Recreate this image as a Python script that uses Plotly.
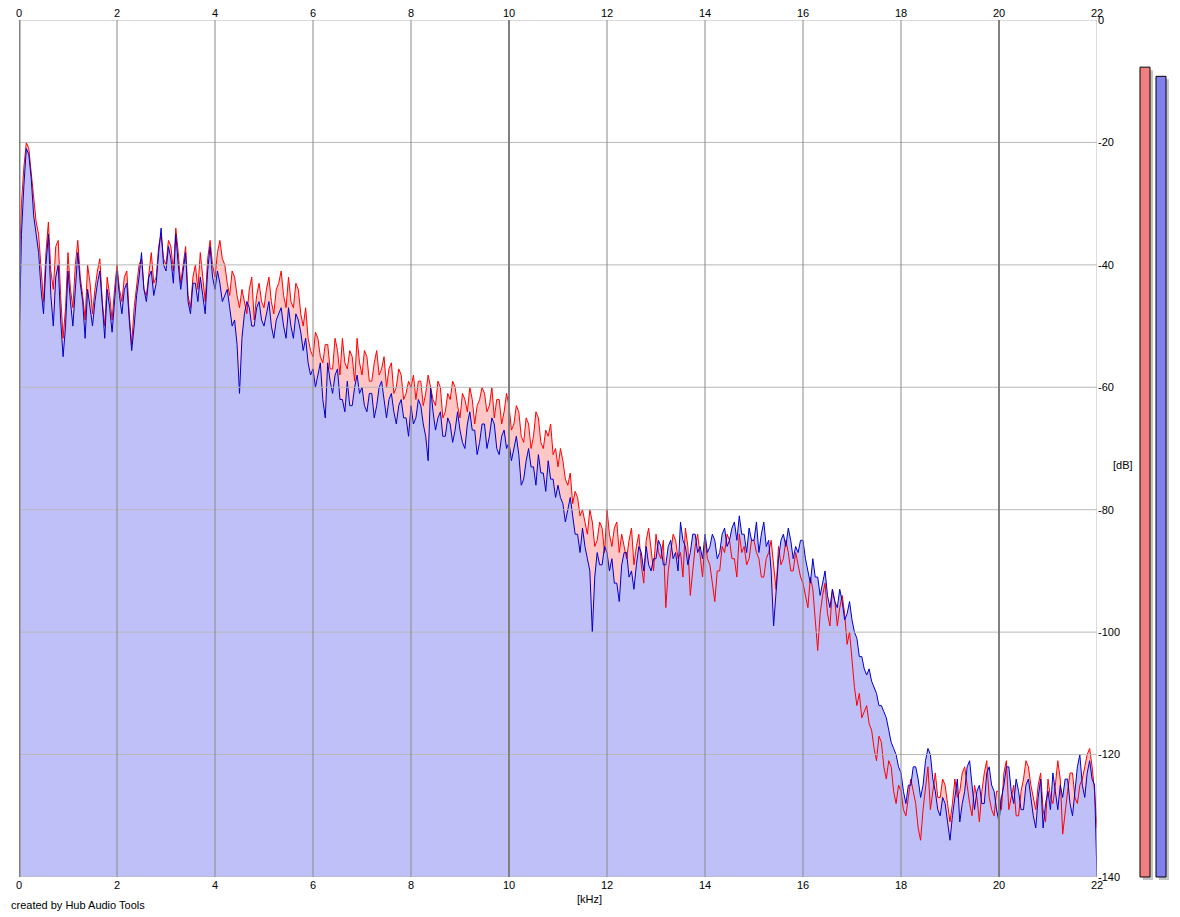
import plotly.graph_objects as go

# ---------------- data ----------------
left_db = [
    -43, -30, -24, -20, -21, -25, -30, -33, -35, -40, -46, -38, -33, -41, -44, -37, -36, -45, -52, -47,
    -38, -44, -47, -40, -36, -42, -45, -49, -40, -43, -48, -44, -41, -39, -46, -50, -42, -45, -49, -44,
    -40, -44, -46, -42, -41, -48, -53, -47, -43, -40, -39, -44, -45, -41, -38, -43, -42, -37, -35, -39,
    -40, -36, -37, -41, -34, -38, -43, -40, -37, -45, -47, -42, -40, -44, -38, -42, -46, -39, -36, -40,
    -42, -38, -36, -39, -40, -43, -45, -41, -42, -45, -47, -44, -46, -48, -44, -42, -49, -45, -43, -46,
    -47, -44, -42, -46, -48, -44, -43, -41, -45, -47, -42, -46, -47, -43, -44, -48, -50, -47, -52, -54,
    -55, -51, -52, -55, -56, -53, -53, -57, -57, -52, -54, -58, -52, -56, -57, -54, -55, -59, -52, -56,
    -58, -54, -55, -59, -59, -56, -54, -58, -57, -55, -60, -57, -56, -61, -60, -57, -58, -62, -61, -59,
    -60, -58, -62, -59, -59, -63, -61, -58, -60, -62, -63, -59, -60, -65, -64, -61, -62, -59, -60, -63,
    -65, -61, -62, -64, -60, -62, -66, -63, -62, -60, -61, -64, -63, -60, -65, -62, -62, -66, -64, -61,
    -63, -67, -66, -63, -64, -68, -69, -65, -66, -70, -68, -64, -65, -69, -70, -67, -68, -66, -71, -70,
    -73, -70, -72, -75, -76, -74, -79, -77, -78, -81, -80, -82, -84, -80, -82, -86, -85, -82, -83, -87,
    -80, -84, -86, -83, -82, -87, -84, -86, -88, -85, -83, -89, -86, -84, -89, -92, -85, -83, -87, -90,
    -84, -87, -88, -85, -96, -90, -87, -84, -85, -88, -87, -91, -83, -86, -94, -90, -86, -84, -88, -91,
    -85, -88, -89, -92, -95, -90, -90, -86, -87, -84, -85, -88, -88, -91, -84, -87, -86, -89, -88, -85,
    -85, -87, -88, -91, -91, -88, -87, -85, -89, -93, -86, -89, -88, -85, -87, -90, -90, -87, -89, -91,
    -92, -94, -96, -91, -93, -98, -103, -97, -94, -92, -97, -99, -93, -95, -99, -96, -94, -97, -102, -100,
    -105, -109, -112, -110, -114, -113, -112, -115, -116, -119, -121, -117, -118, -122, -124, -121, -122, -126, -128, -125,
    -126, -129, -130, -127, -124, -126, -128, -132, -134, -129, -125, -122, -129, -126, -123, -127, -127, -124, -125, -128,
    -131, -128, -124, -127, -126, -123, -122, -125, -128, -130, -125, -127, -131, -126, -123, -121, -127, -129, -130, -126,
    -126, -129, -123, -121, -129, -127, -125, -130, -130, -126, -124, -121, -122, -125, -127, -129, -125, -123, -129, -131,
    -124, -127, -128, -125, -121, -124, -133, -129, -126, -123, -123, -127, -128, -125, -124, -122, -120, -119, -122, -126,
    -132,
]

right_db = [
    -54, -35, -27, -21, -22, -26, -32, -35, -38, -44, -48, -40, -35, -45, -50, -42, -40, -49, -55, -50,
    -41, -46, -50, -44, -38, -43, -46, -52, -44, -47, -50, -46, -43, -41, -47, -52, -44, -47, -51, -46,
    -41, -45, -48, -44, -43, -49, -54, -50, -45, -42, -38, -44, -46, -42, -41, -45, -43, -38, -34, -40,
    -41, -37, -39, -43, -35, -40, -44, -41, -38, -46, -48, -43, -43, -46, -42, -45, -48, -41, -37, -42,
    -44, -41, -43, -46, -45, -44, -47, -50, -49, -53, -61, -52, -48, -46, -47, -50, -50, -47, -46, -49,
    -50, -48, -46, -50, -52, -49, -48, -47, -50, -52, -47, -50, -52, -48, -49, -51, -54, -52, -56, -58,
    -57, -60, -58, -56, -62, -65, -56, -59, -61, -58, -57, -62, -62, -64, -59, -63, -63, -60, -58, -61,
    -60, -63, -64, -61, -61, -65, -63, -60, -59, -62, -65, -62, -61, -64, -66, -63, -62, -65, -65, -68,
    -63, -66, -65, -62, -63, -66, -68, -72, -60, -64, -67, -65, -64, -68, -68, -65, -66, -69, -67, -64,
    -67, -69, -70, -66, -64, -67, -67, -71, -69, -66, -66, -70, -68, -65, -66, -70, -71, -68, -67, -70,
    -69, -72, -70, -68, -71, -76, -75, -72, -70, -73, -73, -76, -71, -74, -74, -77, -72, -75, -75, -78,
    -76, -78, -79, -82, -80, -78, -81, -84, -84, -87, -83, -86, -88, -90, -100, -91, -87, -89, -89, -86,
    -87, -90, -88, -92, -92, -95, -89, -87, -87, -91, -90, -93, -89, -86, -87, -90, -86, -89, -90, -88,
    -88, -85, -86, -89, -89, -86, -85, -88, -87, -90, -82, -85, -86, -89, -87, -84, -84, -87, -86, -88,
    -84, -87, -86, -84, -85, -88, -87, -84, -83, -86, -85, -83, -82, -85, -81, -84, -84, -87, -83, -85,
    -85, -82, -87, -84, -82, -86, -85, -90, -99, -93, -88, -85, -84, -86, -83, -85, -88, -86, -87, -85,
    -85, -88, -90, -92, -88, -91, -91, -94, -92, -90, -94, -96, -93, -95, -96, -93, -95, -98, -97, -95,
    -98, -100, -101, -104, -104, -106, -107, -106, -108, -109, -110, -112, -112, -113, -114, -116, -118, -119, -120, -122,
    -123, -126, -128, -125, -125, -122, -122, -124, -127, -125, -121, -119, -120, -124, -126, -129, -130, -127, -128, -131,
    -134, -130, -127, -124, -131, -128, -126, -122, -121, -125, -129, -126, -125, -128, -128, -123, -122, -125, -126, -129,
    -131, -127, -125, -122, -122, -126, -128, -124, -126, -129, -129, -125, -124, -127, -130, -132, -127, -124, -132, -128,
    -126, -129, -123, -126, -129, -125, -127, -124, -124, -128, -130, -126, -122, -120, -125, -127, -123, -121, -124, -125,
    -140,
]

freq_khz = [round(i * 0.05, 2) for i in range(len(left_db))]

level_db = [-7.7, -9.2]          # red (left) and blue (right) level meters
x_ticks = list(range(0, 23, 2))
y_ticks = list(range(0, -141, -20))

# ---------------- layout geometry ----------------
W, H = 1180, 917
ML, MR, MT, MB = 19, 10, 20, 30
PW, PH = W - ML - MR, H - MT - MB
x_dom_end = (1097 - ML) / PW
y_dom_start = (H - MB - 877) / PH
px_per_db = (877 - 20) / 140.0
bar_axis_start = (1138 - ML) / PW

FONT = dict(family="Liberation Sans, Arial, sans-serif", size=11, color="#000000")
RED, BLUE = "#ff0000", "#0000cc"
PINK_FILL, BLUE_FILL = "#ffc6c6", "#c0c0f8"

n = len(freq_khz)
base = [-140] * n

fig = go.Figure()
fig.add_trace(go.Scatter(x=freq_khz, y=base, mode="lines", line=dict(width=0),
                         hoverinfo="skip", showlegend=False))
fig.add_trace(go.Scatter(x=freq_khz, y=left_db, mode="lines", line=dict(width=0),
                         fill="tonexty", fillcolor=PINK_FILL, showlegend=False))
fig.add_trace(go.Scatter(x=freq_khz, y=base, mode="lines", line=dict(width=0),
                         hoverinfo="skip", showlegend=False))
fig.add_trace(go.Scatter(x=freq_khz, y=right_db, mode="lines", line=dict(width=0),
                         fill="tonexty", fillcolor=BLUE_FILL, showlegend=False))
fig.add_trace(go.Scatter(x=freq_khz, y=left_db, mode="lines",
                         line=dict(color=RED, width=1), showlegend=False))
fig.add_trace(go.Scatter(x=freq_khz, y=right_db, mode="lines",
                         line=dict(color=BLUE, width=1), showlegend=False))

# level meters (with drop shadow) on a helper axis
shadow_off_db = 3 / px_per_db
fig.add_trace(go.Bar(x=[10, 26], y=[v + 140 for v in level_db],
                     base=[-140 - shadow_off_db] * 2, width=[10, 10],
                     marker=dict(color="#c4c4c4", line=dict(width=0)),
                     xaxis="x2", yaxis="y2", showlegend=False, hoverinfo="skip"))
fig.add_trace(go.Bar(x=[7, 23], y=[v + 140 for v in level_db],
                     base=[-140] * 2, width=[10, 10],
                     marker=dict(color=["#f08080", "#8080f0"],
                                 line=dict(color="#000000", width=1)),
                     xaxis="x2", yaxis="y2", showlegend=False))

# grid lines drawn above the filled areas
shapes = []
for t in y_ticks:
    shapes.append(dict(type="line", xref="x", yref="y", x0=0, x1=22, y0=t, y1=t,
                       line=dict(color="#b8b8b8", width=1), layer="above"))
for t in x_ticks:
    if t == 22:
        col, w = "#b8b8b8", 1
    elif t == 0:
        col, w = "#808080", 3
    elif t in (10, 20):
        col, w = "#808080", 2
    else:
        col, w = "#8a8a8a", 1
    shapes.append(dict(type="line", xref="x", yref="y", x0=t, x1=t, y0=-140, y1=0,
                       line=dict(color=col, width=w), layer="above"))

tick_txt_x = [str(t) for t in x_ticks]
fig.update_layout(
    width=W, height=H,
    margin=dict(l=ML, r=MR, t=MT, b=MB, pad=0, autoexpand=False),
    paper_bgcolor="#ffffff", plot_bgcolor="#ffffff",
    font=FONT, showlegend=False, barmode="overlay",
    xaxis=dict(domain=[0, x_dom_end], range=[0, 22], tickvals=x_ticks, ticktext=tick_txt_x,
               showgrid=False, zeroline=False, showline=False, ticks="", tickfont=FONT,
               anchor="y", automargin=False),
    xaxis3=dict(domain=[0, x_dom_end], range=[0, 22], tickvals=x_ticks, ticktext=tick_txt_x,
                overlaying="x", side="top", showgrid=False, zeroline=False, showline=False,
                ticks="", tickfont=FONT, anchor="y", automargin=False),
    yaxis=dict(domain=[y_dom_start, 1], range=[-140, 0], side="right",
               tickvals=y_ticks, ticktext=[str(v) for v in y_ticks],
               showgrid=False, zeroline=False, showline=False, ticks="",
               tickfont=FONT, anchor="x", automargin=False),
    xaxis2=dict(domain=[bar_axis_start, 1], range=[0, 32], visible=False, anchor="y2",
                automargin=False),
    yaxis2=dict(domain=[0, 1], range=[-140 - (H - MB - 877) / px_per_db, 0],
                visible=False, anchor="x2", automargin=False),
    shapes=shapes,
    annotations=[
        dict(text="[kHz]", xref="paper", yref="paper", x=(589 - ML) / PW,
             y=(H - MB - 899) / PH, showarrow=False, xanchor="center", yanchor="middle",
             font=FONT),
        dict(text="[dB]", xref="paper", yref="paper", x=(1123 - ML) / PW,
             y=(H - MB - 465) / PH, showarrow=False, xanchor="center", yanchor="middle",
             font=FONT),
        dict(text="created by Hub Audio Tools", xref="paper", yref="paper",
             x=(9 - ML) / PW, y=(H - MB - 905) / PH, showarrow=False,
             xanchor="left", yanchor="middle", font=FONT),
    ],
)
# invisible point so the top axis is rendered
fig.add_trace(go.Scatter(x=[0], y=[-200], xaxis="x3", yaxis="y", mode="markers",
                         marker=dict(opacity=0), showlegend=False, hoverinfo="skip"))

fig.write_html("out.html")
